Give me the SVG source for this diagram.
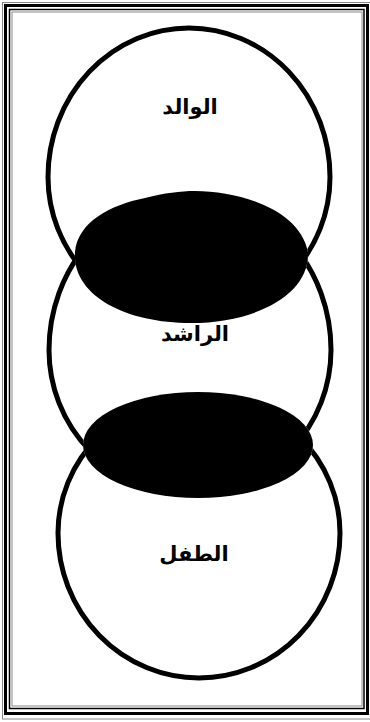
<svg xmlns="http://www.w3.org/2000/svg" width="370" height="722" viewBox="0 0 370 722">
<style>
.ring{fill:none;stroke:#000;stroke-width:5}
.blob{fill:#000;stroke:none}
.lbl{font-family:"DejaVu Sans","Noto Sans",sans-serif;font-weight:bold;font-size:21px;fill:#000;text-anchor:middle}
.frame{fill:none}
</style>
<defs>
<path id="lens1" d="M75,252 C78,222 110,205 145,198 C165,193 180,191 195,191 C240,191 300,210 308,252 C310,295 255,323 191,323 C125,323 72,295 75,252 Z"/>
<ellipse id="lens2" cx="198" cy="445" rx="115" ry="53"/>
<mask id="outside" maskUnits="userSpaceOnUse" x="0" y="0" width="370" height="722">
<rect width="370" height="722" fill="#fff"/>
<use href="#lens1" fill="#000"/>
<use href="#lens2" fill="#000"/>
</mask>
</defs>
<rect width="370" height="722" fill="#fff"/>
<g id="frame" class="frame">
<rect x="2.5" y="2.5" width="368" height="716.5" stroke="#888" stroke-width="1"/>
<rect x="5.5" y="5.5" width="362" height="708" stroke="#000" stroke-width="3"/>
<rect x="9.5" y="9.5" width="354.5" height="699" stroke="#000" stroke-width="1.5"/>
<rect x="12" y="12" width="350" height="694" stroke="#888" stroke-width="1"/>
</g>
<g id="node-father">
<path class="ring" mask="url(#outside)" d="M48,177 A141,149 0 0 1 330,177 A141,141 0 0 1 48,177 Z"/>
<text class="lbl" x="190" y="114">الوالد</text>
</g>
<g id="node-adult">
<path class="ring" mask="url(#outside)" d="M49,350 A141,154 0 0 1 331,350 A141,143 0 0 1 49,350 Z"/>
<text class="lbl" x="195" y="341" font-size="23">الراشد</text>
</g>
<g id="node-child">
<path class="ring" mask="url(#outside)" d="M58,533 A141,137 0 0 1 340,533 A141,145 0 0 1 58,533 Z"/>
<text class="lbl" x="194" y="561">الطفل</text>
</g>
<g id="overlaps">
<use class="blob" href="#lens1"/>
<use class="blob" href="#lens2"/>
</g>
</svg>
